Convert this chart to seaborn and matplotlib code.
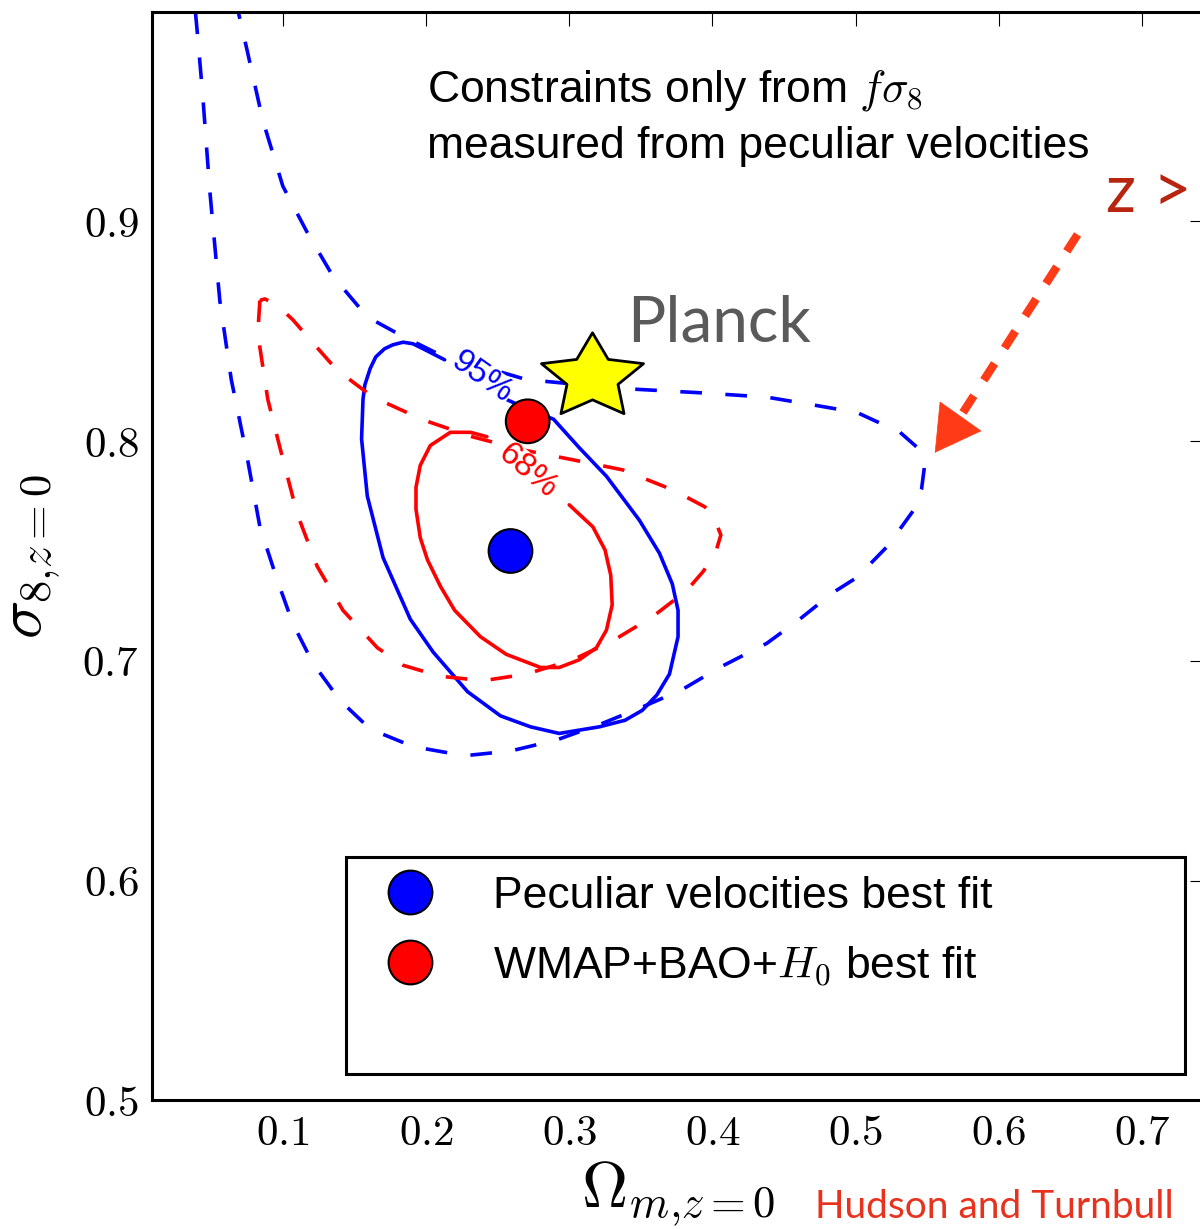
import numpy as np
import pandas as pd
import matplotlib
matplotlib.use("Agg")
import matplotlib.pyplot as plt
import seaborn as sns
from matplotlib.path import Path
from matplotlib.lines import Line2D

# ---------------- data ----------------
xticks = [0.1, 0.2, 0.3, 0.4, 0.5, 0.6, 0.7]
xtick_labels = ["0.1", "0.2", "0.3", "0.4", "0.5", "0.6", "0.7"]
yticks = [0.5, 0.6, 0.7, 0.8, 0.9]
ytick_labels = ["0.5", "0.6", "0.7", "0.8", "0.9"]

# peculiar-velocity 95% contour (blue dashed, open at top)
pv95_x = [0.039, 0.040, 0.044, 0.049, 0.056, 0.064, 0.075, 0.084, 0.096, 0.107,
          0.121, 0.140, 0.161, 0.191, 0.217, 0.229, 0.259, 0.291, 0.321, 0.351,
          0.379, 0.405, 0.438, 0.461, 0.484, 0.501, 0.522, 0.531, 0.541, 0.546,
          0.548, 0.545, 0.531, 0.501, 0.470, 0.438, 0.391, 0.335, 0.270, 0.2075,
          0.189, 0.180, 0.159, 0.135, 0.117, 0.100, 0.086, 0.075, 0.069]
pv95_y = [0.995, 0.988, 0.958, 0.914, 0.864, 0.828, 0.793, 0.761, 0.737, 0.717,
          0.699, 0.682, 0.669, 0.661, 0.658, 0.657, 0.659, 0.664, 0.671, 0.679,
          0.687, 0.697, 0.708, 0.719, 0.731, 0.738, 0.752, 0.760, 0.769, 0.778,
          0.788, 0.796, 0.804, 0.813, 0.8165, 0.820, 0.822, 0.824, 0.828, 0.840,
          0.846, 0.849, 0.8565, 0.875, 0.895, 0.916, 0.946, 0.978, 0.995]

# peculiar-velocity 68% contour (blue solid, gap at the label)
pv68_x = [0.256, 0.273, 0.289, 0.307, 0.326, 0.349, 0.363, 0.372, 0.376, 0.376,
          0.370, 0.3612, 0.351, 0.339, 0.321, 0.293, 0.273, 0.252, 0.229, 0.205,
          0.189, 0.170, 0.159, 0.155, 0.156, 0.1573, 0.161, 0.1649, 0.171, 0.1768,
          0.184, 0.1908, 0.198, 0.213]
pv68_y = [0.819, 0.814, 0.810, 0.797, 0.784, 0.764, 0.749, 0.735, 0.723, 0.711,
          0.694, 0.6845, 0.6775, 0.673, 0.670, 0.667, 0.670, 0.675, 0.686, 0.704,
          0.719, 0.747, 0.775, 0.801, 0.819, 0.8256, 0.833, 0.8383, 0.842, 0.8438,
          0.845, 0.8443, 0.842, 0.837]

# WMAP+BAO+H0 95% contour (red dashed, closed)
wm95_x = [0.084, 0.0825, 0.086, 0.0895, 0.098, 0.110, 0.124, 0.142, 0.166, 0.184,
          0.210, 0.240, 0.270, 0.3025, 0.330, 0.358, 0.382, 0.3933, 0.4017, 0.4059,
          0.4003, 0.3947, 0.3723, 0.3374, 0.3025, 0.2676, 0.2327, 0.1978, 0.1628,
          0.1377, 0.121, 0.107, 0.0958, 0.0874, 0.084]
wm95_y = [0.864, 0.849, 0.834, 0.819, 0.797, 0.767, 0.743, 0.723, 0.706, 0.698,
          0.693, 0.691, 0.694, 0.7005, 0.709, 0.720, 0.732, 0.7405, 0.7482, 0.7573,
          0.7664, 0.7701, 0.7778, 0.7869, 0.7915, 0.796, 0.8019, 0.8097, 0.8201,
          0.8324, 0.8447, 0.8552, 0.862, 0.8647, 0.864]

# WMAP+BAO+H0 68% contour (red solid, gap at the label)
wm68_x = [0.300, 0.3165, 0.325, 0.329, 0.330, 0.326, 0.319, 0.307, 0.293, 0.280,
          0.256, 0.238, 0.220, 0.210, 0.201, 0.196, 0.193, 0.193, 0.196, 0.203,
          0.217, 0.231, 0.2425]
wm68_y = [0.771, 0.761, 0.7505, 0.739, 0.7255, 0.714, 0.706, 0.7005, 0.697, 0.697,
          0.703, 0.711, 0.723, 0.734, 0.746, 0.756, 0.769, 0.779, 0.789, 0.798,
          0.804, 0.804, 0.802]

# best-fit points
fit_labels = ["Peculiar velocities best fit", r"WMAP+BAO+$H_0$ best fit"]
fit_omega = [0.259, 0.271]
fit_sigma = [0.750, 0.809]
fit_colors = ["#0000ff", "#ff0000"]

planck_omega = [0.3156]
planck_sigma = [0.829]

# arrow (tail -> tip) in data units
arrow_tail = (0.655, 0.894)
arrow_base = (0.573, 0.811)
arrow_tip = (0.5553, 0.7947)

# ---------------- style ----------------
sns.set_theme(style="white")
plt.rcParams.update({
    "font.family": ["Liberation Sans", "DejaVu Sans"],
    "mathtext.fontset": "cm",
    "axes.edgecolor": "black",
    "axes.linewidth": 2.2,
    "xtick.color": "black",
    "ytick.color": "black",
    "text.color": "black",
    "axes.labelcolor": "black",
})

fig = plt.figure(figsize=(12, 12.29), dpi=100)
ax = fig.add_axes([0.12708, 0.10456, 0.87592, 0.88527])

LW = 2.6
dash = (0, (6, 6.5))
sns.lineplot(x=pv95_x, y=pv95_y, sort=False, estimator=None, color="#0000ff",
             linewidth=LW, linestyle=dash, ax=ax, legend=False, zorder=2)
sns.lineplot(x=pv68_x, y=pv68_y, sort=False, estimator=None, color="#0000ff",
             linewidth=LW, ax=ax, legend=False, zorder=2)
sns.lineplot(x=wm95_x, y=wm95_y, sort=False, estimator=None, color="#ff0000",
             linewidth=LW, linestyle=dash, ax=ax, legend=False, zorder=2)
sns.lineplot(x=wm68_x, y=wm68_y, sort=False, estimator=None, color="#ff0000",
             linewidth=LW, ax=ax, legend=False, zorder=2)
for ln in ax.lines:
    ln.set_solid_joinstyle("round")
    ln.set_dash_joinstyle("round")

# contour labels
ax.text(0.239, 0.829, "95%", rotation=-35, color="#0000ff", fontsize=24,
        ha="center", va="center", rotation_mode="anchor", zorder=4,
        bbox=dict(fc="white", ec="none", pad=0))
ax.text(0.2711, 0.7865, "68%", rotation=-40, color="#ff0000", fontsize=24,
        ha="center", va="center", rotation_mode="anchor", zorder=4,
        bbox=dict(fc="white", ec="none", pad=0))

# best fit points
sns.scatterplot(x=fit_omega, y=fit_sigma, hue=fit_labels, palette=fit_colors,
                s=990, edgecolor="black", linewidth=1.5, ax=ax, legend=False, zorder=5)

# Planck star (slightly wide star)
star = Path.unit_regular_star(5)
star_marker = Path(star.vertices * np.array([1.2, 1.0]), star.codes)
sns.scatterplot(x=planck_omega, y=planck_sigma, marker=star_marker, s=5400,
                color="#ffff00", edgecolor="black", linewidth=2.0, ax=ax,
                legend=False, zorder=5)

# arrow
acol = "#ff3b17"
ax.plot([arrow_tail[0], arrow_base[0]], [arrow_tail[1], arrow_base[1]], color=acol,
        linewidth=6, linestyle=(0, (2.4, 2.2)), solid_capstyle="butt", zorder=3)
ax.annotate("", xy=arrow_tip, xytext=arrow_base,
            arrowprops=dict(arrowstyle="-|>,head_length=1.05,head_width=0.6",
                            color=acol, lw=0.5, mutation_scale=30,
                            shrinkA=0, shrinkB=0), zorder=3)

# texts
ax.text(0.2006, 0.9544, r"Constraints only from $f\sigma_8$", fontsize=32,
        ha="left", va="baseline")
ax.text(0.2006, 0.9289, "measured from peculiar velocities", fontsize=32,
        ha="left", va="baseline")
ax.text(0.3402, 0.8452, "Planck", fontsize=46, color="#5a5a5a",
        family=["Lato", "DejaVu Sans"], weight="normal", ha="left", va="baseline")
ax.text(0.6747, 0.9043, "z >", fontsize=48, color="#b8240f",
        family=["Lato", "DejaVu Sans"], weight="normal", ha="left", va="baseline",
        clip_on=False)
fig.text(0.6792, 0.003, "Hudson and Turnbull", fontsize=28, color="#e8321e",
         family=["Lato", "DejaVu Sans"], weight="normal", ha="left", va="bottom")

# axes
ax.set_xlim(0.009, 0.743)
ax.set_ylim(0.5, 0.995)
ax.set_xticks(xticks)
ax.set_xticklabels(["$" + t + "$" for t in xtick_labels])
ax.set_yticks(yticks)
ax.set_yticklabels(["$" + t + "$" for t in ytick_labels])
ax.tick_params(direction="in", length=10, width=0.8, top=True, right=True,
               labelsize=31, pad=10)
ax.set_xlabel(r"$\Omega_{m{,}z{=}0}$", fontsize=46, labelpad=4)
ax.set_ylabel(r"$\sigma_{8{,}z{=}0}$", fontsize=46, labelpad=14)
for s in ax.spines.values():
    s.set_linewidth(2.2)
    s.set_color("black")

# legend
handles = [Line2D([], [], marker="o", linestyle="", markersize=31.5,
                  markerfacecolor=c, markeredgecolor="black", markeredgewidth=1.5,
                  label=l) for c, l in zip(fit_colors, fit_labels)]
handles.append(Line2D([], [], linestyle="", label=" "))
leg = ax.legend(handles=handles, loc="upper left",
                bbox_to_anchor=(0.2883, 0.1, 0.6992, 0.2027),
                bbox_transform=fig.transFigure, mode="expand", borderaxespad=0,
                fontsize=32, frameon=True, fancybox=False, framealpha=1,
                edgecolor="black", borderpad=0.42, labelspacing=0.61,
                handlelength=2.05, handletextpad=0.84, numpoints=1)
leg.get_frame().set_linewidth(2.2)
leg.set_zorder(6)

fig.savefig("out.png", dpi=100)
